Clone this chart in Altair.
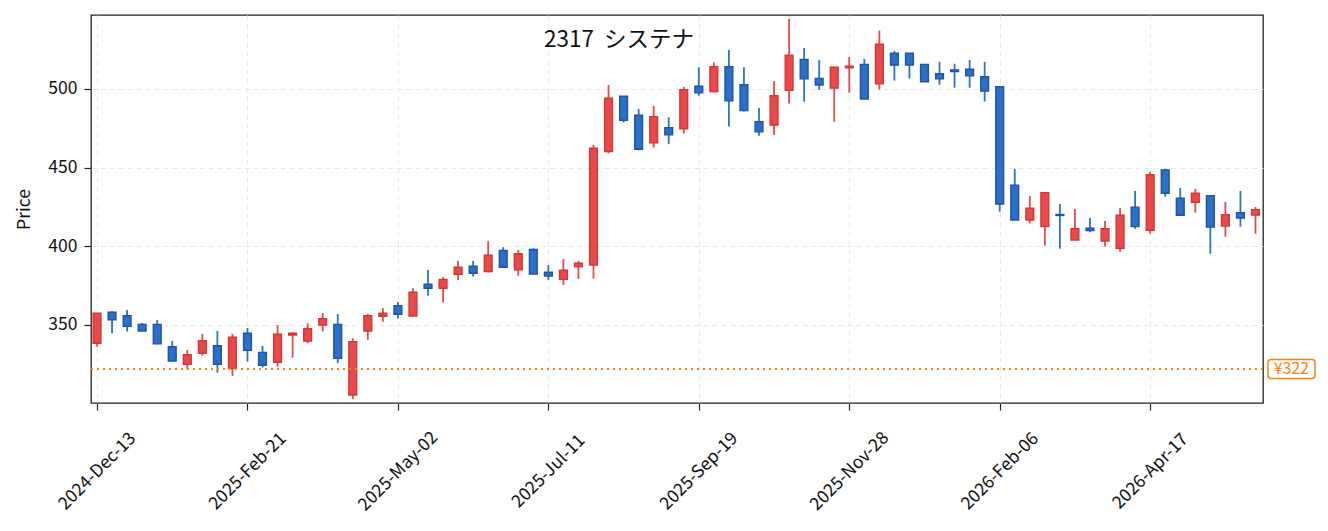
import altair as alt
import pandas as pd

# ---- data ----
opens = [338.4, 358.1, 355.9, 350.4, 350.4, 336.2, 325.0, 332.0, 336.8, 322.5,
         344.7, 332.6, 326.3, 343.6, 339.8, 350.0, 350.4, 305.5, 346.2, 355.5,
         362.3, 355.7, 375.9, 373.3, 382.2, 387.3, 383.9, 397.3, 385.0, 398.0,
         383.5, 379.0, 386.9, 388.1, 460.2, 495.4, 483.3, 465.7, 475.4, 474.6,
         501.7, 498.3, 514.2, 502.7, 479.2, 477.1, 499.2, 518.7, 506.7, 500.6,
         513.4, 515.6, 503.2, 522.7, 522.7, 515.6, 509.7, 512.1, 512.5, 507.8,
         501.5, 438.8, 416.7, 412.5, 420.2, 404.0, 411.5, 403.4, 398.7, 424.9,
         410.2, 448.5, 430.5, 428.0, 432.2, 412.9, 421.4, 419.9]
highs = [357.6, 358.9, 359.5, 351.3, 353.2, 339.8, 334.1, 344.3, 346.2, 344.3,
         348.1, 336.7, 350.0, 345.4, 351.1, 357.6, 357.0, 341.5, 357.0, 360.8,
         364.6, 373.3, 385.0, 380.3, 390.7, 390.7, 403.4, 399.4, 397.7, 398.7,
         388.1, 392.0, 390.7, 464.4, 502.5, 495.4, 487.3, 489.2, 482.0, 501.3,
         513.8, 517.0, 524.8, 513.8, 487.9, 505.1, 544.5, 526.1, 518.4, 513.8,
         520.3, 519.1, 537.1, 524.2, 522.7, 515.6, 517.2, 516.0, 518.4, 517.2,
         501.5, 449.2, 432.0, 434.1, 426.9, 423.7, 418.0, 416.1, 424.4, 435.2,
         447.3, 449.2, 437.1, 436.4, 432.2, 428.2, 435.2, 425.0]
lows = [336.2, 344.7, 345.8, 346.2, 338.0, 327.1, 321.8, 330.5, 319.7, 317.6,
        326.7, 322.9, 323.5, 329.2, 338.4, 345.8, 325.7, 302.8, 340.5, 352.1,
        354.0, 355.7, 368.6, 364.2, 378.6, 380.7, 383.3, 386.7, 381.3, 382.4,
        378.6, 375.4, 379.2, 379.5, 459.1, 478.8, 461.0, 462.7, 464.9, 471.6,
        495.7, 497.6, 476.1, 485.6, 470.3, 470.8, 490.7, 491.9, 499.4, 479.2,
        497.6, 493.6, 499.6, 505.3, 506.6, 504.6, 502.7, 500.8, 500.8, 492.0,
        422.0, 416.7, 414.6, 400.4, 398.5, 404.0, 408.9, 399.8, 396.6, 411.2,
        408.0, 431.5, 419.7, 421.4, 395.3, 406.1, 412.5, 408.0]
closes = [357.4, 353.2, 349.2, 346.2, 338.0, 327.1, 331.1, 340.0, 325.0, 342.2,
          333.9, 324.4, 344.1, 344.7, 347.6, 354.0, 328.8, 339.4, 355.9, 357.4,
          356.8, 370.8, 373.3, 379.0, 386.7, 382.9, 394.3, 386.7, 395.3, 382.4,
          381.1, 384.8, 389.2, 462.3, 494.1, 480.1, 461.7, 482.4, 470.8, 499.6,
          497.5, 514.2, 492.4, 486.2, 472.7, 495.7, 521.5, 506.4, 502.5, 513.8,
          514.4, 493.6, 528.4, 515.2, 515.2, 504.6, 506.4, 511.0, 508.3, 498.7,
          426.9, 416.7, 424.2, 434.1, 419.6, 411.2, 410.0, 411.2, 419.7, 412.5,
          445.5, 433.7, 419.7, 433.7, 412.3, 420.1, 418.0, 423.3]

week_dates = pd.date_range("2024-12-13", periods=len(opens), freq="7D")
tick_positions = [0, 10, 20, 30, 40, 50, 60, 70]
tick_labels = ["2024-Dec-13", "2025-Feb-21", "2025-May-02", "2025-Jul-11",
               "2025-Sep-19", "2025-Nov-28", "2026-Feb-06", "2026-Apr-17"]
y_ticks = [350, 400, 450, 500]
ref_price = 322
title_text = "2317\u00a0\u00a0システナ"

FONT = "Noto Sans CJK JP"
UP_FILL, UP_EDGE, UP_WICK = "#e84a4a", "#d33636", "#e34c4c"
DN_FILL, DN_EDGE, DN_WICK = "#2b6fc7", "#1d55a7", "#3172c8"
ORANGE = "#ff7f0e"

df = pd.DataFrame({
    "idx": list(range(len(opens))),
    "date": week_dates.strftime("%Y-%m-%d"),
    "open": opens, "high": highs, "low": lows, "close": closes,
})
df["dir"] = ["up" if c >= o else "down" for o, c in zip(opens, closes)]

label_array = "[" + ",".join("'%s'" % t for t in tick_labels) + "]"

x_scale = alt.Scale(domain=[-0.4, 77.5], nice=False, zero=False, padding=0)
y_scale = alt.Scale(domain=[300.4, 547.0], nice=False, zero=False, padding=0)

x_enc = alt.X("idx:Q", scale=x_scale, title=None,
              axis=alt.Axis(values=tick_positions,
                            labelExpr=label_array + "[round(datum.value/10)]",
                            labelAngle=-45, labelAlign="center",
                            labelBaseline="middle", labelPadding=61,
                            labelOverlap=False, labelBound=False,
                            labelFlush=False))
y_axis = alt.Axis(values=y_ticks, title="Price", titlePadding=14,
                  labelPadding=7)

base = alt.Chart(df)

wicks = base.mark_rule(strokeWidth=1.8).encode(
    x=x_enc,
    y=alt.Y("low:Q", scale=y_scale, axis=y_axis),
    y2="high:Q",
    color=alt.Color("dir:N", scale=alt.Scale(domain=["up", "down"],
                                             range=[UP_WICK, DN_WICK]),
                    legend=None),
)

bodies = base.mark_bar(width=7.8, strokeWidth=1.4).encode(
    x=alt.X("idx:Q", scale=x_scale),
    y=alt.Y("open:Q", scale=y_scale),
    y2="close:Q",
    fill=alt.Fill("dir:N", scale=alt.Scale(domain=["up", "down"],
                                           range=[UP_FILL, DN_FILL]),
                  legend=None),
    stroke=alt.Stroke("dir:N", scale=alt.Scale(domain=["up", "down"],
                                               range=[UP_EDGE, DN_EDGE]),
                      legend=None),
)

ref_df = pd.DataFrame({"price": [ref_price], "label": ["¥%d" % ref_price]})
ref_line = alt.Chart(ref_df).mark_rule(
    color=ORANGE, strokeDash=[2, 4], strokeWidth=1.8
).encode(y=alt.Y("price:Q", scale=y_scale))

ref_box = alt.Chart(ref_df).mark_rect(
    fill="white", stroke=ORANGE, strokeWidth=1.5, cornerRadius=3,
    yOffset=-9.5, y2Offset=9.5
).encode(x=alt.value(1177), x2=alt.value(1224),
         y=alt.Y("price:Q", scale=y_scale), y2="price:Q")

ref_text = alt.Chart(ref_df).mark_text(
    color=ORANGE, font=FONT, fontSize=16, align="center", baseline="middle"
).encode(x=alt.value(1200.5), y=alt.Y("price:Q", scale=y_scale),
         text="label:N")

title_df = pd.DataFrame({"t": [title_text]})
title = alt.Chart(title_df).mark_text(
    font=FONT, fontSize=22.5, align="center", baseline="middle", color="#111"
).encode(x=alt.value(528), y=alt.value(25), text="t:N")

chart = alt.layer(wicks, bodies, ref_line, ref_box, ref_text, title).properties(
    width=1172, height=388,
    autosize=alt.AutoSizeParams(type="none"),
    padding={"left": 83, "top": 7, "right": 55, "bottom": 114},
).configure_view(
    stroke="#222", strokeWidth=1.3
).configure_axis(
    domain=False, grid=True, gridColor="#e8e8e8", gridDash=[5, 4],
    gridWidth=1, tickColor="#222", tickSize=7, tickWidth=1.2,
    labelFont=FONT, labelFontSize=17.5, labelColor="#111",
    titleFont=FONT, titleFontSize=17.5, titleFontWeight="normal",
    titleColor="#111",
)

chart.save("out.html", embed_options={"renderer": "svg", "actions": False})
